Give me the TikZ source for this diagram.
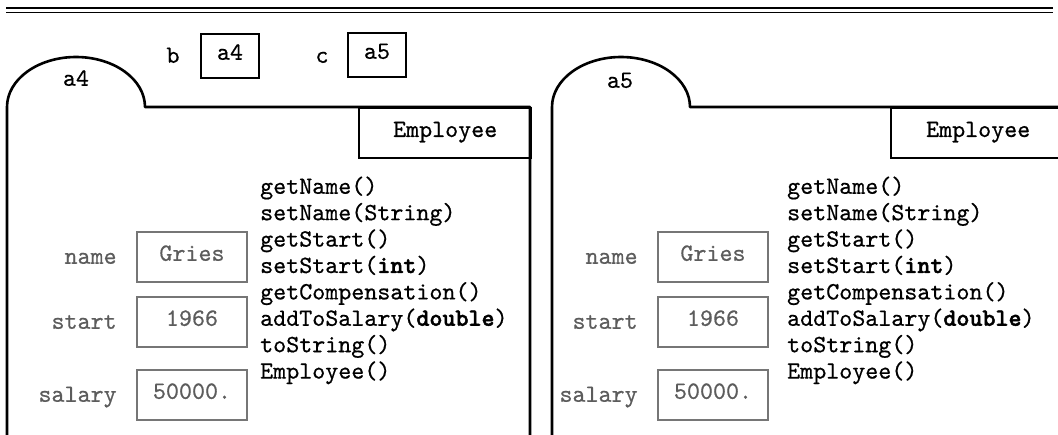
\documentclass[tikz,border=0pt]{standalone}
\usepackage{fontspec}
\setmonofont{lmmono10-regular.otf}[BoldFont=lmmonolt10-bold.otf,UprightFeatures={FakeBold=0.6},BoldFeatures={FakeBold=1.8}]
\usetikzlibrary{positioning}
\definecolor{fieldgray}{RGB}{118,118,118}
\definecolor{textgray}{RGB}{92,92,92}

\begin{document}
\begin{tikzpicture}[x=1pt,y=-1pt,
    every node/.style={font=\ttfamily\fontsize{24.8}{26.4}\selectfont,inner sep=0pt},
    txt/.style={text height=1.85ex,text depth=.1ex},
    objline/.style={line width=2.6pt,line join=round},
    refbox/.style={txt,draw,line width=2.3pt,minimum width=58,minimum height=44},
    classbox/.style={txt,draw,line width=2.4pt,minimum height=50,anchor=north west},
    fieldbox/.style={txt,draw=fieldgray,line width=2.3pt,minimum width=110,minimum height=50,text=textgray},
    fieldlabel/.style={txt,text=textgray,yshift=-3pt},
    method/.style={txt,anchor=west}]
  \useasboundingbox (0,0) rectangle (1058,434);

  % Rule at the top
  \draw[line width=2.4pt] (6,8) -- (1053,8);
  \draw[line width=1.1pt] (6,12.5) -- (1053,12.5);

  % Variables b and c
  \node[txt] (bLab) at (173,59) {b};
  \node[refbox] (bBox) at (230,56) {a4};
  \node[txt] (cLab) at (322,59) {c};
  \node[refbox] (cBox) at (377,55) {a5};

  % Folder a4
  \draw[objline] (7,445) -- (7,107) arc[start angle=180,end angle=360,x radius=69,y radius=50]
    -- (530,107) -- (530,445);
  \node[txt] (objA) at (76,82) {a4};
  \node[classbox,minimum width=172] (clsA) at (358,107) {Employee};
  \node[fieldbox] (nameA) at (192,257) {Gries};
  \node[fieldbox] (startA) at (192,322) {1966};
  \node[fieldbox] (salaryA) at (192,395) {50000.};
  \node[fieldlabel,left=19pt of nameA] {name};
  \node[fieldlabel,left=19pt of startA] {start};
  \node[fieldlabel,left=19pt of salaryA] {salary};
  \foreach \m [count=\i from 0] in {{getName()},{setName(String)},{getStart()},{setStart(\textbf{int})},
      {getCompensation()},{addToSalary(\textbf{double})},{toString()},{Employee()}}
    \node[method] (mA\i) at (260,190+26.4*\i) {\m};

  % Folder a5
  \draw[objline] (552,445) -- (552,107) arc[start angle=180,end angle=360,x radius=69,y radius=50]
    -- (1064,107) -- (1064,445);
  \node[txt] (objB) at (620,84) {a5};
  \node[classbox,minimum width=174] (clsB) at (890,107) {Employee};
  \node[fieldbox] (nameB) at (713,257) {Gries};
  \node[fieldbox] (startB) at (713,322) {1966};
  \node[fieldbox] (salaryB) at (713,395) {50000.};
  \node[fieldlabel,left=19pt of nameB] {name};
  \node[fieldlabel,left=19pt of startB] {start};
  \node[fieldlabel,left=19pt of salaryB] {salary};
  \foreach \m [count=\i from 0] in {{getName()},{setName(String)},{getStart()},{setStart(\textbf{int})},
      {getCompensation()},{addToSalary(\textbf{double})},{toString()},{Employee()}}
    \node[method] (mB\i) at (787,190+26.4*\i) {\m};
\end{tikzpicture}
\end{document}
